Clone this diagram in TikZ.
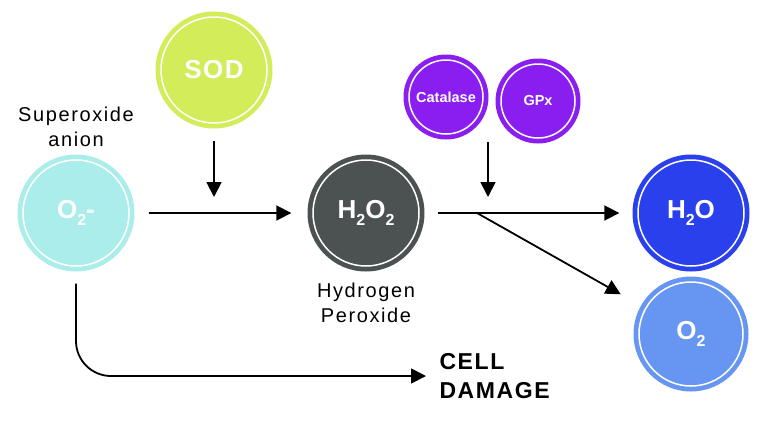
\documentclass[tikz,border=0pt]{standalone}
\usepackage{fontspec}
\setmainfont{Liberation Sans}
\usetikzlibrary{arrows.meta}

\definecolor{SodGreen}{RGB}{210,236,90}
\definecolor{AnionCyan}{RGB}{170,237,234}
\definecolor{PeroxGrey}{RGB}{76,82,81}
\definecolor{EnzPurple}{RGB}{138,30,240}
\definecolor{WaterBlue}{RGB}{42,64,236}
\definecolor{OxyBlue}{RGB}{102,150,242}

\newcommand{\molsub}[1]{\raisebox{-0.3em}{\fontsize{16}{16}\selectfont #1}}

\begin{document}
\begin{tikzpicture}[x=1pt, y=-1pt,
        >={Triangle[length=15pt,width=15pt]},
        mol/.style={circle, inner sep=0pt, text=white, font=\fontsize{26}{26}\selectfont\bfseries\addfontfeatures{LetterSpace=6}},
        ring/.style={path picture={\draw[white, line width=1.5pt] (path picture bounding box.center) circle[radius=#1];}},
        molname/.style={align=center, font=\fontsize{20}{25}\selectfont\addfontfeatures{LetterSpace=8}},
        enzyme/.style={mol, fill=EnzPurple, minimum size=85pt, ring=37pt, font=\fontsize{14.5}{14.5}\selectfont\bfseries},
        flow/.style={->, line width=1.8pt}]
        \useasboundingbox (0,0) rectangle (768,421);

        % Superoxide anion
        \node[mol, fill=AnionCyan, minimum size=117pt, ring=53pt] (o2m) at (76,213) {O\molsub{2}-};
        \node[molname] (o2mname) at (76,127) {Superoxide\\anion};

        % SOD
        \node[mol, fill=SodGreen, minimum size=117pt, ring=53pt] (sod) at (214,70) {SOD};
        \coordinate (sodhit) at (214,197);
        \draw[flow] ([yshift=-12pt]sod.south) -- (sodhit);

        % Hydrogen peroxide
        \node[mol, fill=PeroxGrey, minimum size=117pt, ring=53pt] (h2o2) at (366,213) {H\molsub{2}O\molsub{2}};
        \node[molname] (h2o2name) at (366,303) {Hydrogen\\Peroxide};
        \draw[flow, shorten <=14pt, shorten >=16pt] (o2m) -- (h2o2);

        % Catalase and GPx
        \node[enzyme] (cat) at (446,97) {Catalase};
        \node[enzyme] (gpx) at (538,101) {GPx};
        \coordinate (enztop) at (488,142);
        \coordinate (enzhit) at (488,197);
        \draw[flow] (enztop) -- (enzhit);

        % Products
        \node[mol, fill=WaterBlue, minimum size=117pt, ring=53pt] (h2o) at (691,213) {H\molsub{2}O};
        \node[mol, fill=OxyBlue, minimum size=115pt, ring=52pt] (o2) at (691,334) {O\molsub{2}};
        \draw[flow, shorten <=13pt, shorten >=13pt] (h2o2) -- (h2o);
        \coordinate (split) at (477,213);
        \draw[flow, shorten >=23pt] (split) -- (o2);

        % Cell damage
        \node[align=left, anchor=west, font=\fontsize{23}{29}\selectfont\bfseries\addfontfeatures{LetterSpace=7}] (dmg) at (436,376) {CELL\\DAMAGE};
        \draw[flow, rounded corners=35pt] ([yshift=-12pt]o2m.south) |- ([xshift=-10pt]dmg.west);
\end{tikzpicture}
\end{document}
